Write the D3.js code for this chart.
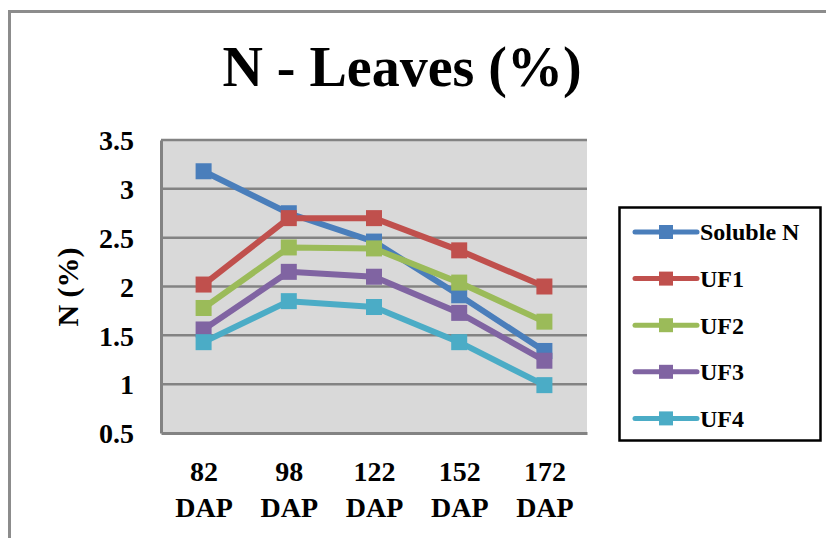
<!DOCTYPE html>
<html>
<head>
<meta charset="utf-8">
<script src="https://cdn.jsdelivr.net/npm/d3@7"></script>
<style>
  html, body { margin: 0; padding: 0; background: #fff; }
  svg { display: block; }
  text { font-family: "Liberation Serif", "Times New Roman", serif; font-weight: bold; fill: #000; }
</style>
</head>
<body>
<svg id="chart" width="826" height="538"></svg>
<script>
const categories = ["82 DAP", "98 DAP", "122 DAP", "152 DAP", "172 DAP"];
const seriesNames = ["Soluble N", "UF1", "UF2", "UF3", "UF4"];
const solubleN = [3.18, 2.75, 2.46, 1.91, 1.34];
const uf1 = [2.02, 2.70, 2.70, 2.37, 2.00];
const uf2 = [1.78, 2.40, 2.39, 2.04, 1.64];
const uf3 = [1.56, 2.15, 2.10, 1.73, 1.24];
const uf4 = [1.43, 1.85, 1.79, 1.43, 0.99];
const yTicks = [0.5, 1, 1.5, 2, 2.5, 3, 3.5];
const colors = ["#4a7ebb", "#c0504d", "#9bbb59", "#8064a2", "#4bacc6"];

const seriesValues = [solubleN, uf1, uf2, uf3, uf4];
const series = seriesNames.map((name, i) => ({ name, values: seriesValues[i], color: colors[i] }));

const svg = d3.select("#chart");

// outer chart border (extends past right and bottom edges)
svg.append("rect")
  .attr("x", 9.5).attr("y", 11.5)
  .attr("width", 900).attr("height", 600)
  .attr("fill", "#fff")
  .attr("stroke", "#8c8c8c").attr("stroke-width", 3);

const plot = { left: 161, right: 587, top: 140, bottom: 433 };

const x = d3.scalePoint().domain(categories).range([plot.left, plot.right]).padding(0.5);
const y = d3.scaleLinear().domain([0.5, 3.5]).range([plot.bottom, plot.top]);

// plot background
svg.append("rect")
  .attr("x", plot.left).attr("y", plot.top)
  .attr("width", plot.right - plot.left).attr("height", plot.bottom - plot.top)
  .attr("fill", "#d9d9d9");

// gridlines
svg.append("g")
  .selectAll("line")
  .data(yTicks.filter(t => t > 0.5))
  .join("line")
  .attr("x1", plot.left).attr("x2", plot.right)
  .attr("y1", d => y(d)).attr("y2", d => y(d))
  .attr("stroke", "#838383").attr("stroke-width", 2.5);

// y axis
const yAxis = d3.axisLeft(y).tickValues(yTicks).tickSize(0).tickPadding(27)
  .tickFormat(d => String(d));
const gy = svg.append("g").attr("transform", `translate(${plot.left},0)`).call(yAxis);
gy.select(".domain").attr("stroke", "#838383").attr("stroke-width", 3);
gy.selectAll("text").style("font-size", "28px")
  .style("font-family", "'Liberation Serif', 'Times New Roman', serif")
  .style("font-weight", "bold").attr("fill", "#000").attr("dy", "0.35em");

// x axis
const xAxis = d3.axisBottom(x).tickSize(0).tickFormat("");
const gx = svg.append("g").attr("transform", `translate(0,${plot.bottom})`).call(xAxis);
gx.select(".domain").attr("stroke", "#838383").attr("stroke-width", 3);
gx.selectAll(".tick").each(function(d) {
  const parts = d.split(" ");
  const t = d3.select(this).append("text")
    .attr("text-anchor", "middle")
    .style("font-size", "28px");
  t.append("tspan").attr("x", 0).attr("y", 48).text(parts[0]);
  t.append("tspan").attr("x", 0).attr("y", 84).text(parts[1]);
});

// lines
const line = d3.line()
  .x((d, i) => x(categories[i]))
  .y(d => y(d));

const gs = svg.append("g").selectAll("g").data(series).join("g");
gs.append("path")
  .attr("d", d => line(d.values))
  .attr("fill", "none")
  .attr("stroke", d => d.color)
  .attr("stroke-width", 6)
  .attr("stroke-linejoin", "round");
gs.selectAll("rect")
  .data(d => d.values.map((v, i) => ({ v, i, color: d.color })))
  .join("rect")
  .attr("x", d => x(categories[d.i]) - 8)
  .attr("y", d => y(d.v) - 8)
  .attr("width", 16).attr("height", 16)
  .attr("fill", d => d.color);

// title
svg.append("text")
  .attr("x", 402).attr("y", 86)
  .attr("text-anchor", "middle")
  .style("font-size", "56px")
  .text("N - Leaves (%)");

// y axis label
svg.append("text")
  .attr("transform", "translate(78,287) rotate(-90)")
  .attr("text-anchor", "middle")
  .style("font-size", "30px")
  .text("N (%)");

// legend
const lg = svg.append("g");
lg.append("rect")
  .attr("x", 619.5).attr("y", 207.5)
  .attr("width", 201).attr("height", 233)
  .attr("fill", "#fff")
  .attr("stroke", "#000").attr("stroke-width", 2.5);
const items = lg.selectAll("g.item").data(series).join("g")
  .attr("class", "item")
  .attr("transform", (d, i) => `translate(0,${232 + i * 46.6})`);
items.append("line")
  .attr("x1", 635).attr("x2", 697)
  .attr("y1", 0).attr("y2", 0)
  .attr("stroke", d => d.color)
  .attr("stroke-width", 5)
  .attr("stroke-linecap", "round");
items.append("rect")
  .attr("x", 659).attr("y", -7)
  .attr("width", 14).attr("height", 14)
  .attr("fill", d => d.color);
items.append("text")
  .attr("x", 700).attr("y", 0).attr("dy", "0.35em")
  .style("font-size", "24px")
  .text(d => d.name);
</script>
</body>
</html>
